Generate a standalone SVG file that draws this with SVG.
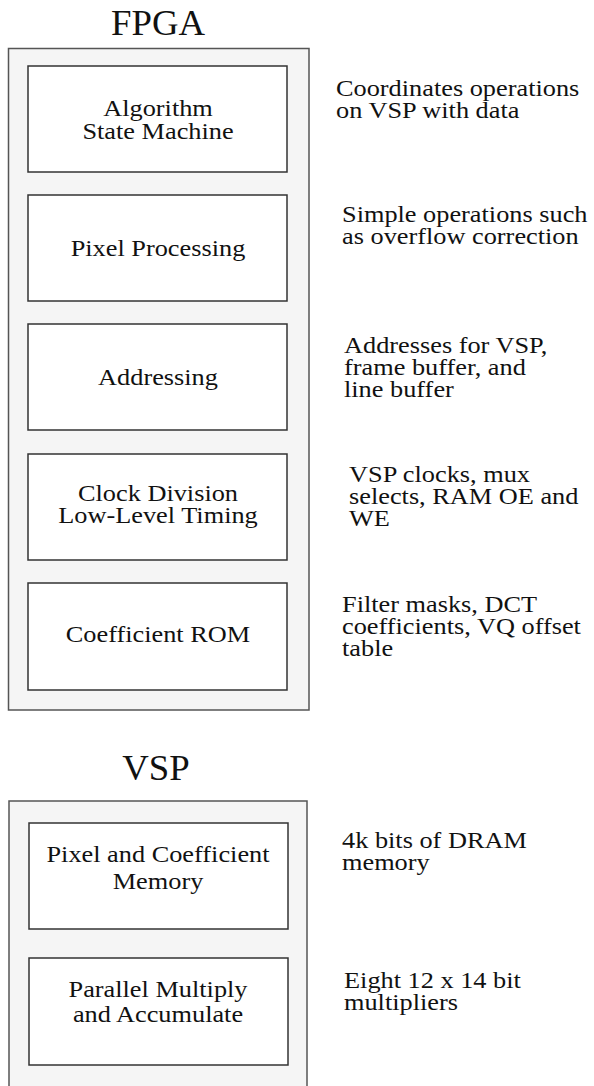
<svg xmlns="http://www.w3.org/2000/svg" width="594" height="1086" viewBox="0 0 594 1086">
<style>
.outer{fill:#f5f5f5;stroke:#555;stroke-width:1.5}
.inner{fill:#fff;stroke:#333;stroke-width:1.5}
text{font-family:"Liberation Serif","Times New Roman",serif;fill:#111}
.title{font-size:35px;text-anchor:middle}
.lbl{font-size:23.5px;text-anchor:middle}
.desc{font-size:23.5px}
</style>
<rect width="594" height="1086" fill="#fff"/>
<g id="fpga">
<text class="title" transform="matrix(1.05,0,0,1,158,35)">FPGA</text>
<rect class="outer" x="8.5" y="48.5" width="300.5" height="661.5"/>
</g>
<g id="asm">
<rect class="inner" x="28" y="66" width="259" height="106"/>
<text class="lbl" transform="matrix(1.12,0,0,1,158,116)">Algorithm</text>
<text class="lbl" transform="matrix(1.12,0,0,1,158,139)">State Machine</text>
</g>
<g id="pixel">
<rect class="inner" x="28" y="195" width="259" height="106"/>
<text class="lbl" transform="matrix(1.12,0,0,1,158,256)">Pixel Processing</text>
</g>
<g id="addr">
<rect class="inner" x="28" y="324" width="259" height="106"/>
<text class="lbl" transform="matrix(1.12,0,0,1,158,385)">Addressing</text>
</g>
<g id="clock">
<rect class="inner" x="28" y="454" width="259" height="106"/>
<text class="lbl" transform="matrix(1.12,0,0,1,158,501)">Clock Division</text>
<text class="lbl" transform="matrix(1.12,0,0,1,158,523)">Low-Level Timing</text>
</g>
<g id="rom">
<rect class="inner" x="28" y="583" width="259" height="107"/>
<text class="lbl" transform="matrix(1.12,0,0,1,158,642)">Coefficient ROM</text>
</g>
<g id="desc-fpga">
<text class="desc" transform="matrix(1.12,0,0,1,336,96)">Coordinates operations</text>
<text class="desc" transform="matrix(1.12,0,0,1,336,118)">on VSP with data</text>
<text class="desc" transform="matrix(1.12,0,0,1,342,222)">Simple operations such</text>
<text class="desc" transform="matrix(1.12,0,0,1,342,244)">as overflow correction</text>
<text class="desc" transform="matrix(1.12,0,0,1,344,353)">Addresses for VSP,</text>
<text class="desc" transform="matrix(1.12,0,0,1,344,375)">frame buffer, and</text>
<text class="desc" transform="matrix(1.12,0,0,1,344,397)">line buffer</text>
<text class="desc" transform="matrix(1.12,0,0,1,349,482)">VSP clocks, mux</text>
<text class="desc" transform="matrix(1.12,0,0,1,349,504)">selects, RAM OE and</text>
<text class="desc" transform="matrix(1.12,0,0,1,349,526)">WE</text>
<text class="desc" transform="matrix(1.12,0,0,1,342,612)">Filter masks, DCT</text>
<text class="desc" transform="matrix(1.12,0,0,1,342,634)">coefficients, VQ offset</text>
<text class="desc" transform="matrix(1.12,0,0,1,342,656)">table</text>
</g>
<g id="vsp">
<text class="title" transform="matrix(1.05,0,0,1,156,780)">VSP</text>
<rect class="outer" x="9" y="801" width="298" height="300"/>
</g>
<g id="mem">
<rect class="inner" x="29" y="823" width="259" height="106"/>
<text class="lbl" transform="matrix(1.12,0,0,1,158,862)">Pixel and Coefficient</text>
<text class="lbl" transform="matrix(1.12,0,0,1,158,889)">Memory</text>
</g>
<g id="mac">
<rect class="inner" x="29" y="958" width="259" height="107"/>
<text class="lbl" transform="matrix(1.12,0,0,1,158,997)">Parallel Multiply</text>
<text class="lbl" transform="matrix(1.12,0,0,1,158,1022)">and Accumulate</text>
</g>
<g id="desc-vsp">
<text class="desc" transform="matrix(1.12,0,0,1,342,848)">4k bits of DRAM</text>
<text class="desc" transform="matrix(1.12,0,0,1,342,870)">memory</text>
<text class="desc" transform="matrix(1.12,0,0,1,344,988)">Eight 12 x 14 bit</text>
<text class="desc" transform="matrix(1.12,0,0,1,344,1010)">multipliers</text>
</g>
<g id="connectors"/>
</svg>
